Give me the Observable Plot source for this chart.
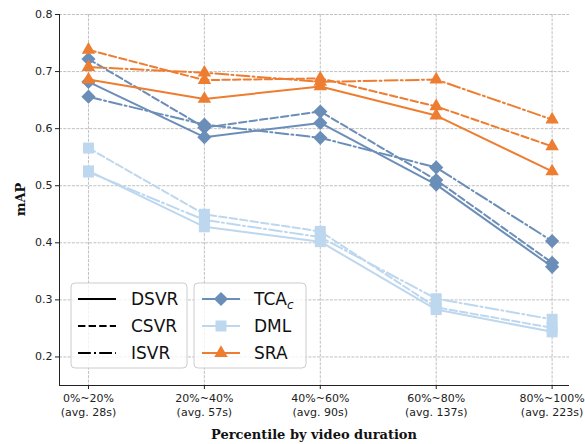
<!DOCTYPE html>
<html>
<head>
<meta charset="utf-8">
<script src="https://cdn.jsdelivr.net/npm/d3@7"></script>
<script src="https://cdn.jsdelivr.net/npm/@observablehq/plot@0.6"></script>
<style>
  html, body { margin: 0; padding: 0; background: #fff; }
  #chart { width: 585px; height: 444px; }
</style>
</head>
<body>
<div id="chart"></div>
<script>
// ---- data ----
const periods = ["0%~20%\n(avg. 28s)", "20%~40%\n(avg. 57s)", "40%~60%\n(avg. 90s)", "60%~80%\n(avg. 137s)", "80%~100%\n(avg. 223s)"];
const variants = ["DSVR", "CSVR", "ISVR"];
const methods = ["TCA", "DML", "SRA"];
const yTicks = [0.2, 0.3, 0.4, 0.5, 0.6, 0.7, 0.8];

const tcaDSVR = [0.682, 0.585, 0.610, 0.502, 0.358];
const tcaCSVR = [0.722, 0.602, 0.630, 0.510, 0.365];
const tcaISVR = [0.656, 0.607, 0.584, 0.532, 0.403];
const dmlDSVR = [0.526, 0.428, 0.402, 0.283, 0.244];
const dmlCSVR = [0.566, 0.450, 0.420, 0.287, 0.251];
const dmlISVR = [0.524, 0.440, 0.410, 0.302, 0.266];
const sraDSVR = [0.686, 0.652, 0.674, 0.623, 0.525];
const sraCSVR = [0.738, 0.685, 0.688, 0.639, 0.569];
const sraISVR = [0.708, 0.698, 0.682, 0.686, 0.616];

// ---- styles ----
const colors = {TCA: "#6b8eb8", DML: "#bdd7ee", SRA: "#ed7d31"};
const symbols = {TCA: "diamond2", DML: "square", SRA: "triangle"};
const radii = {TCA: 6.4, DML: 6.2, SRA: 5.0};
const dashes = {DSVR: "none", CSVR: "7.4,3.2", ISVR: "12.8,3.2,2,3.2"};

const series = {
  TCA: {DSVR: tcaDSVR, CSVR: tcaCSVR, ISVR: tcaISVR},
  DML: {DSVR: dmlDSVR, CSVR: dmlCSVR, ISVR: dmlISVR},
  SRA: {DSVR: sraDSVR, CSVR: sraCSVR, ISVR: sraISVR}
};
const rows = [];
for (const m of methods) for (const v of variants)
  series[m][v].forEach((val, i) => rows.push({method: m, variant: v, i, value: val}));

const xDomain = [-0.25, 4.15];
const yDomain = [0.15, 0.8];

const marks = [
  Plot.gridY(yTicks, {stroke: "#b0b0b0", strokeOpacity: 1, strokeDasharray: "3,1.3", strokeWidth: 0.8}),
  Plot.gridX(d3.range(periods.length), {stroke: "#b0b0b0", strokeOpacity: 1, strokeDasharray: "3,1.3", strokeWidth: 0.8}),
  Plot.axisY(yTicks, {tickFormat: d3.format(".1f"), tickSize: 4, tickPadding: 3, fontSize: 11, fill: "#222", stroke: "#222", label: null}),
  Plot.axisX(d3.range(periods.length), {tickFormat: i => periods[i], tickSize: 4, tickPadding: 3, fontSize: 11, lineHeight: 1.25, fill: "#222", stroke: "#222", label: null}),
  Plot.ruleX([xDomain[0]], {stroke: "#222", strokeWidth: 1}),
  Plot.ruleY([yDomain[0]], {stroke: "#222", strokeWidth: 1})
];
for (const m of methods) {
  for (const v of variants) {
    const d = rows.filter(r => r.method === m && r.variant === v);
    marks.push(Plot.line(d, {x: "i", y: "value", stroke: colors[m], strokeWidth: 2, strokeDasharray: dashes[v]}));
  }
  marks.push(Plot.dot(rows.filter(r => r.method === m), {x: "i", y: "value", symbol: symbols[m], r: radii[m], fill: colors[m], stroke: "none"}));
}

const svg = Plot.plot({
  width: 585,
  height: 444,
  marginLeft: 59,
  marginRight: 16,
  marginTop: 14,
  marginBottom: 59,
  style: {fontFamily: "DejaVu Sans", fontSize: "11px", background: "white", color: "#222"},
  x: {type: "linear", domain: xDomain, axis: null},
  y: {domain: yDomain, axis: null},
  symbol: {type: "identity"},
  marks
});

// axis titles
const sel = d3.select(svg);
sel.append("text")
  .attr("x", 314).attr("y", 439)
  .attr("text-anchor", "middle")
  .attr("font-family", "DejaVu Serif").attr("font-weight", "bold").attr("font-size", 13)
  .attr("fill", "#111")
  .text("Percentile by video duration");
sel.append("text")
  .attr("transform", "translate(25,199.5) rotate(-90)")
  .attr("text-anchor", "middle")
  .attr("font-family", "DejaVu Serif").attr("font-weight", "bold").attr("font-size", 13)
  .attr("fill", "#111")
  .text("mAP");

// legends
const rowY = [299, 326, 353];
function box(x0, x1) {
  sel.append("rect").attr("x", x0).attr("y", 283).attr("width", x1 - x0).attr("height", 85)
    .attr("rx", 4).attr("fill", "white").attr("fill-opacity", 0.8)
    .attr("stroke", "#cccccc").attr("stroke-width", 1);
}
box(71, 187);
box(194, 306);
variants.forEach((v, k) => {
  sel.append("line").attr("x1", 78).attr("x2", 116).attr("y1", rowY[k]).attr("y2", rowY[k])
    .attr("stroke", "#000").attr("stroke-width", 2).attr("stroke-dasharray", dashes[v]);
  sel.append("text").attr("x", 131).attr("y", rowY[k]).attr("dy", "0.36em")
    .attr("text-anchor", "start")
    .attr("font-family", "DejaVu Sans").attr("font-size", 17).attr("fill", "#111").text(v);
});
const d3sym = {TCA: d3.symbolDiamond2, DML: d3.symbolSquare, SRA: d3.symbolTriangle};
methods.forEach((m, k) => {
  sel.append("line").attr("x1", 202).attr("x2", 240).attr("y1", rowY[k]).attr("y2", rowY[k])
    .attr("stroke", colors[m]).attr("stroke-width", 2);
  sel.append("path").attr("transform", `translate(221,${rowY[k]})`)
    .attr("d", d3.symbol(d3sym[m], Math.PI * radii[m] * radii[m])())
    .attr("fill", colors[m]);
  const t = sel.append("text").attr("x", 254).attr("y", rowY[k]).attr("dy", "0.36em")
    .attr("text-anchor", "start")
    .attr("font-family", "DejaVu Sans").attr("font-size", 17).attr("fill", "#111");
  if (m === "TCA") {
    t.append("tspan").text("TCA");
    t.append("tspan").attr("font-size", 12).attr("font-style", "italic").attr("dy", "0.3em").text("c");
  } else {
    t.text(m);
  }
});

document.getElementById("chart").appendChild(svg);
</script>
</body>
</html>
